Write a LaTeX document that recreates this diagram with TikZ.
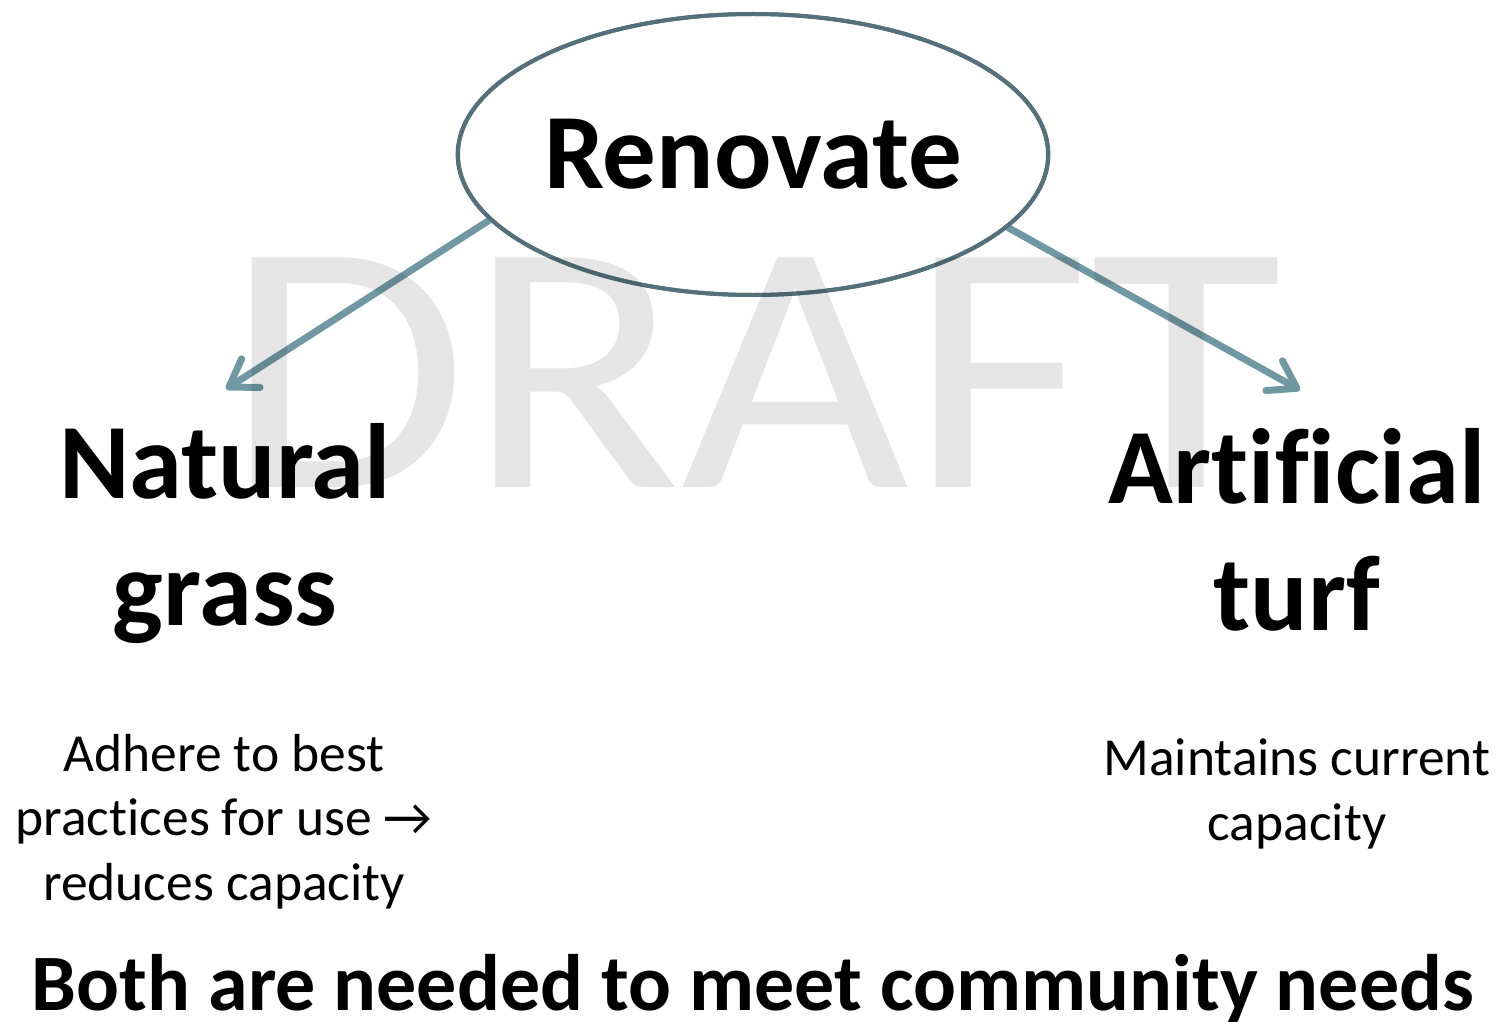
\documentclass[tikz,border=0pt]{standalone}
\usepackage{fontspec}
\setmainfont{Carlito}[Ligatures=NoCommon]
\usetikzlibrary{arrows.meta,shapes.geometric}
\definecolor{ringcol}{HTML}{53707B}
\definecolor{arrowcol}{HTML}{6F98A3}
\begin{document}
\begin{tikzpicture}[x=1pt,y=-1pt,
  big/.style={font=\bfseries\fontsize{107}{127}\selectfont, align=center, inner sep=0pt, anchor=base},
  small/.style={font=\fontsize{53.5}{64.5}\selectfont, align=center, inner sep=0pt, anchor=base},
  branch/.style={arrowcol, line width=7pt, line cap=round,
    -{Straight Barb[length=26pt,width=34pt,round]}}]
\useasboundingbox (0,0) rectangle (1499,1022);
% branch targets
\coordinate (natTip) at (226,389);
\coordinate (artTip) at (1300,390);
% root
\node[ellipse, draw=ringcol, line width=4pt, minimum width=590pt, minimum height=281pt, inner sep=0pt,
  font=\bfseries\fontsize{107}{127}\selectfont] (ren) at (753,154.5) {Renovate};
\draw[branch] (ren.194.4) -- (natTip);
\draw[branch] (ren.344.5) -- (artTip);
\node[ellipse, draw=ringcol, line width=4pt, minimum width=590pt, minimum height=281pt] at (ren) {};
% options (base anchor sits on the last line)
\node[big] (nat) at (225,625) {Natural\\grass};
\node[big] (art) at (1297,630) {Artificial\\turf};
\node[small] (natNote) at (224,900) {Adhere to best\\practices for use →\\reduces capacity};
\node[small] (artNote) at (1297,840) {Maintains current\\capacity};
\node[font=\bfseries\fontsize{80}{96}\selectfont, inner sep=0pt, anchor=base] (both) at (753,1010) {Both are needed to meet community needs};
% translucent watermark over everything
\node[text=black, text opacity=0.1, font=\fontsize{358}{358}\selectfont, inner sep=0pt, anchor=base] (mark) at (754,487) {\scalebox{1.1}[1]{DRAFT}};
\end{tikzpicture}
\end{document}
